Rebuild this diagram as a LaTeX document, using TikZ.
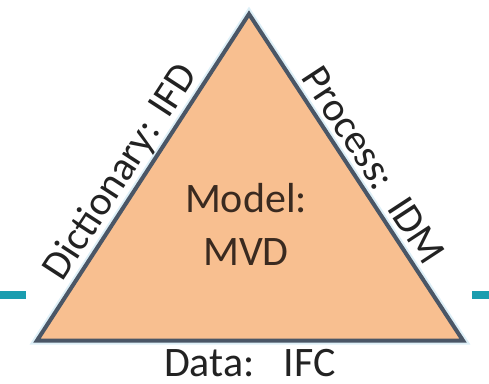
\documentclass[tikz,border=0pt]{standalone}
\usepackage{fontspec}
\setmainfont{Carlito}
\definecolor{peach}{HTML}{F8BF90}
\definecolor{edgecol}{HTML}{4A5666}
\definecolor{halo}{HTML}{DDEFF7}
\definecolor{barcol}{HTML}{1A9DAF}
\definecolor{modeltxt}{HTML}{3A2A20}
\definecolor{labeltxt}{HTML}{222222}
\tikzset{
  bar/.style={fill=barcol},
  tri/.style={fill=peach, draw=edgecol, line width=4pt, line join=miter},
  trihalo/.style={draw=halo, line width=8pt, line join=miter},
  centertext/.style={text=modeltxt, inner sep=0pt, anchor=base, font=\fontsize{42}{50}\selectfont},
  edgelabel/.style={text=labeltxt, inner sep=0pt, font=\fontsize{41}{49}\selectfont}
}
\begin{document}
\begin{tikzpicture}[x=1pt,y=-1pt]
\useasboundingbox (0,0) rectangle (489,383);
\fill[bar] (0,290.7) rectangle (26,299);
\fill[bar] (472,290.7) rectangle (489,299);
\coordinate (A) at (37,340.5);
\coordinate (B) at (249,14);
\coordinate (C) at (463,340.5);
\draw[trihalo] (A) -- (B) -- (C) -- cycle;
\draw[tri] (A) -- (B) -- (C) -- cycle;
\node[centertext] (m1) at (246,212) {Model:};
\node[centertext] (m2) at (246,265) {MVD};
\node[edgelabel, rotate=57] (dict) at (121.5,172.5) {Dictionary: IFD};
\node[edgelabel, rotate=-56.8] (proc) at (373.6,165.5) {Process:\hspace{0.15em} IDM};
\node[edgelabel, anchor=base, font=\fontsize{42}{50}\selectfont] (data) at (250,376) {Data:\hspace{0.4em} IFC};
\end{tikzpicture}
\end{document}
